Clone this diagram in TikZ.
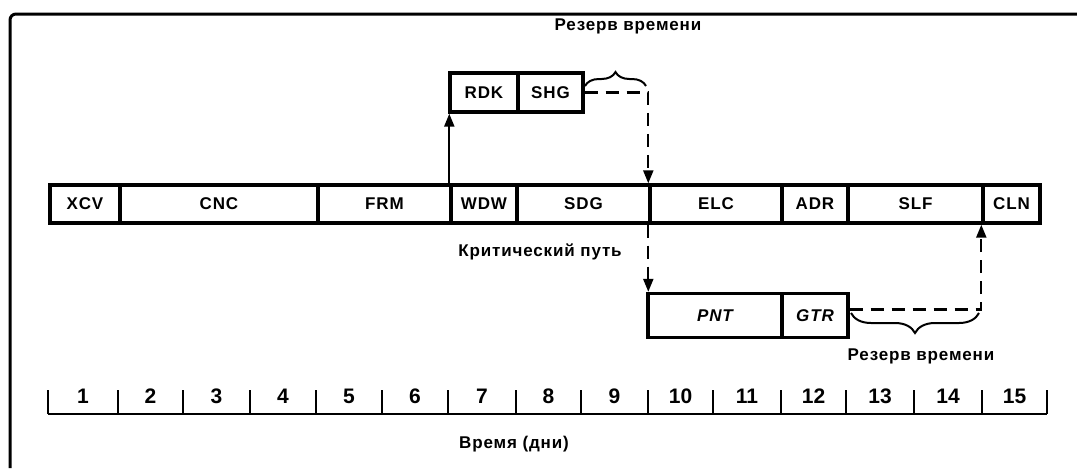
\documentclass[tikz,border=0pt]{standalone}
\usepackage{fontspec}
\setmainfont{Liberation Sans}
\newfontfamily\labfont{Liberation Sans}[LetterSpace=5]
\usetikzlibrary{arrows.meta,decorations.pathreplacing,calc}
\begin{document}
\begin{tikzpicture}[x=0.5pt,y=-0.5pt,
  seg/.style={draw, line width=1.7pt, inner sep=0pt, minimum height=19pt,
    font=\labfont\bfseries\fontsize{8.5}{10}\selectfont},
  lab/.style={inner sep=0pt, font=\labfont\bfseries\fontsize{8.5}{10}\selectfont},
  num/.style={inner sep=0pt, font=\bfseries\fontsize{10.5}{12}\selectfont},
  tip/.style={-{Triangle[length=6.5pt,width=5pt]}},
  dconn/.style={line width=1.1pt, dash pattern=on 6.5pt off 4pt, tip},
  sconn/.style={line width=1.1pt, dash pattern=on 30pt off 3pt, tip},
  bracestyle/.style={line width=1pt, decorate}
]
\useasboundingbox (0,0) rectangle (1077,468);
% frame
\draw[line width=1.5pt, rounded corners=3pt] (10,468) -- (10,14) -- (1077,14);

% main bar
\node[seg, minimum width=35pt]   (xcv) at (85,204)    {XCV};
\node[seg, minimum width=99pt]   (cnc) at (219,204)   {CNC};
\node[seg, minimum width=66.5pt] (frm) at (384.5,204) {FRM};
\node[seg, minimum width=33pt]   (wdw) at (484,204)   {WDW};
\node[seg, minimum width=66.5pt] (sdg) at (583.5,204) {SDG};
\node[seg, minimum width=66pt]   (elc) at (716,204)   {ELC};
\node[seg, minimum width=33pt]   (adr) at (815,204)   {ADR};
\node[seg, minimum width=67.5pt] (slf) at (915.5,204) {SLF};
\node[seg, minimum width=28.5pt] (cln) at (1011.5,204) {CLN};

% upper branch
\node[seg, minimum width=34pt, minimum height=19.5pt]   (rdk) at (484,92.5)   {RDK};
\node[seg, minimum width=32.5pt, minimum height=19.5pt] (shg) at (550.5,92.5) {SHG};

% lower branch
\node[seg, minimum width=67pt, minimum height=22pt, font=\labfont\bfseries\itshape\fontsize{8.5}{10}\selectfont] (pnt) at (715,315.5) {PNT};
\node[seg, minimum width=33pt, minimum height=22pt, font=\labfont\bfseries\itshape\fontsize{8.5}{10}\selectfont] (gtr) at (815,315.5) {GTR};

% connectors
\draw[sconn] (wdw.north west) -- (wdw.north west |- rdk.south);
\draw[dconn] (shg.east) -| (elc.north west);
\draw[dconn] (elc.south west) -- (elc.south west |- pnt.north);
\draw[dconn] ([yshift=3pt]gtr.east) -| (cln.south west);

% braces
\coordinate (b1a) at (585,86);
\coordinate (b1b) at (646,86);
\draw[bracestyle, decoration={brace, amplitude=7pt}] (b1a) -- (b1b);
\coordinate (b2a) at (979,313);
\coordinate (b2b) at (851,313);
\draw[bracestyle, decoration={brace, amplitude=10pt}] (b2a) -- (b2b);

% labels
\node[lab] (res1) at (628,26)  {Резерв времени};
\node[lab] (res2) at (921,356) {Резерв времени};
\node[lab] (crit) at (540,252) {Критический путь};
\node[lab] (time) at (514,444) {Время (дни)};

% time axis
\draw[line width=1.2pt] (48,414) -- (1047,414);
\foreach \x in {48,118,183,250,316,382,448,516,581,648,713,781,846,914,982,1047}
  \draw[line width=1.1pt] (\x,414) -- (\x,390);
\foreach \m [count=\i] in {83,150.5,216.5,283,349,415,482,548.5,614.5,680.5,747,813.5,880,948,1014.5}
  \node[num] (n\i) at (\m,396) {\i};
\end{tikzpicture}
\end{document}
